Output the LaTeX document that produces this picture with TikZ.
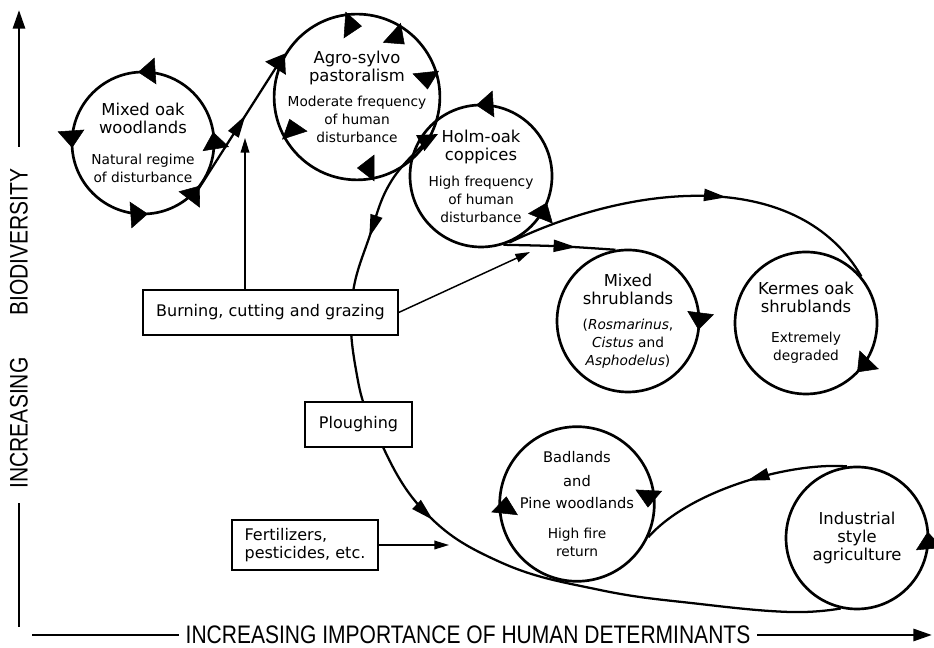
\documentclass[tikz,border=0pt]{standalone}
\usepackage{fontspec}
\setmainfont{DejaVu Sans}
\newfontfamily\axisfont[FakeStretch=0.83]{Liberation Sans}
\usetikzlibrary{arrows.meta,decorations.markings}
\newcommand\subtxt{\fontsize{10.3}{13.5}\selectfont}
\newcommand\midtxt{\fontsize{11}{13.5}\selectfont}
\begin{document}
\begin{tikzpicture}[x=0.75pt,y=0.75pt,
  >={Triangle[length=11pt,width=6.5pt]},
  state/.style={draw,circle,line width=2pt,minimum size=106.5pt,inner sep=0pt,align=center,font=\fontsize{12.3}{13.5}\selectfont},
  box/.style={draw,fill=white,line width=1.3pt,minimum height=34pt,align=center,font=\fontsize{12}{14}\selectfont},
  link/.style={line width=1.7pt},
  cw/.style={postaction={decorate,decoration={markings,mark=at position #1 with {\arrowreversed{Triangle[length=13pt,width=20pt]}}}}},
  ccw/.style={postaction={decorate,decoration={markings,mark=at position #1 with {\arrow{Triangle[length=13pt,width=20pt]}}}}},
  mid/.style={postaction={decorate,decoration={markings,mark=at position #1 with {\arrow{Triangle[length=17pt,width=9pt]}}}}},
  axis/.style={line width=2.2pt,font=\axisfont\fontsize{19}{19}\selectfont,inner sep=0pt}]
\useasboundingbox (0,0) rectangle (934,648);

\node[state] (oak) at (143,505) {Mixed oak\\woodlands\\[10pt]\subtxt Natural regime\\\subtxt of disturbance};
\node[state] (agro) at (357,551) {Agro-sylvo\\pastoralism\\[5pt]\subtxt Moderate frequency\\\subtxt of human\\\subtxt disturbance};
\node[state] (holm) at (481,472) {Holm-oak\\coppices\\[6pt]\subtxt High frequency\\\subtxt of human\\\subtxt disturbance};
\node[state] (mix) at (628,327) {Mixed\\shrublands\\[5pt]\subtxt (\textit{Rosmarinus},\\\subtxt\textit{Cistus} and\\\subtxt\textit{Asphodelus})};
\node[state] (kermes) at (806,325) {Kermes oak\\shrublands\\[9pt]\subtxt Extremely\\\subtxt degraded};
\node[state] (bad) at (577,144) {\midtxt Badlands\\[4pt]\midtxt and\\[3pt]\midtxt Pine woodlands\\[9pt]\subtxt High fire\\\subtxt return};
\node[state] (ind) at (857,110) {Industrial\\style\\agriculture};

\path[ccw/.list={0.025,0.261,0.511,0.761,0.897}] (oak.center) circle[radius=71];
\path[cw/.list={0.239,0.133,0.017,0.75,0.55}] (agro.center) circle[radius=71];
\path[ccw/.list={0.261,0.939}] (holm.center) circle[radius=71];
\path[cw=0.98] (mix.center) circle[radius=71];
\path[cw=0.878] (kermes.center) circle[radius=71];
\path[cw/.list={0.483,0.992}] (bad.center) circle[radius=71];
\path[ccw=0.014] (ind.center) circle[radius=71];

\coordinate (jn) at (438,514);
\path[draw,link,mid=0.55,-{Triangle[length=13pt,width=18pt]}] (oak.-41) -- (agro.149);
\path[draw,link,-{Triangle[length=15pt,width=13pt]}] (agro.-29) -- (jn);
\path[draw,link,mid=0.14,mid=0.5] plot[smooth,tension=0.7] coordinates {(agro.-29) (392,468) (370,413) (352,348) (356,278) (375,218) (423,138) (500,86) (600,58) (700,44) (790,36) (ind.257)};
\path[draw,link,mid=0.58] (holm.-67) .. controls (640,468) and (800,478) .. (kermes.40);
\path[draw,link,mid=0.65] (holm.-72) .. controls (560,402) .. (mix.100);
\path[draw,link,mid=0.47] (ind.98) .. controls (790,186) and (690,158) .. (bad.-25);

\node[box,minimum width=191pt] (burn) at (270.5,335.5) {Burning, cutting and grazing};
\node[box,minimum width=80pt] (plough) at (358.5,223.5) {Ploughing};
\node[box,minimum width=109.5pt,minimum height=37.5pt,align=left] (fert) at (305,103) {Fertilizers,\\pesticides, etc.};

\coordinate (uptip) at (245,510);
\coordinate (shrtip) at (530,396);
\coordinate (ferttip) at (449,103);
\path[draw,line width=1.1pt,->] (burn.north -| uptip) -- (uptip);
\path[draw,line width=1.1pt,->] (burn.east) -- (shrtip);
\path[draw,line width=1.1pt,->] (fert.east) -- (ferttip);

\node[axis,rotate=90] (bio) at (19,406) {BIODIVERSITY};
\node[axis,rotate=90] (incy) at (19,225) {INCREASING};
\node[axis] (incx) at (468,13) {INCREASING IMPORTANCE OF HUMAN DETERMINANTS};
\coordinate (ytip) at (19,638);
\coordinate (ybot) at (19,21);
\coordinate (xstart) at (32,13);
\coordinate (xtip) at (932,13);
\path[draw,axis,-{Triangle[length=14pt,width=9pt]}] ([yshift=15pt]bio.east) -- (ytip);
\path[draw,axis] ([yshift=-10pt]incy.west) -- (ybot);
\path[draw,axis] (xstart) -- ([xshift=-4pt]incx.west);
\path[draw,axis,-{Triangle[length=14pt,width=9pt]}] ([xshift=4pt]incx.east) -- (xtip);
\end{tikzpicture}
\end{document}
